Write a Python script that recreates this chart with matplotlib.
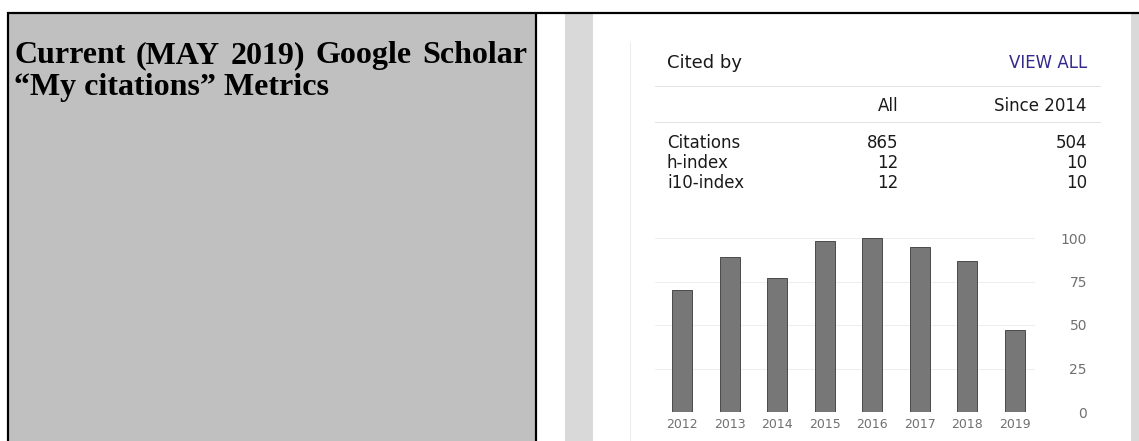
import matplotlib
matplotlib.use("Agg")
import matplotlib.pyplot as plt
from matplotlib.patches import Rectangle

W, H = 1139, 441

# ---- data ----
title_lines = ["Current (MAY 2019) Google Scholar", "\u201cMy citations\u201d Metrics"]
col_headers = ["All", "Since 2014"]
metric_names = ["Citations", "h-index", "i10-index"]
all_values = [865, 12, 12]
since_values = [504, 10, 10]
years = [2012, 2013, 2014, 2015, 2016, 2017, 2018, 2019]
cites = [70, 89, 77, 98, 100, 95, 87, 47]
y_ticks = [0, 25, 50, 75, 100]

SANS = ["DejaVu Sans"]
SERIF = ["Liberation Serif", "DejaVu Serif"]
PX = 0.72  # one pixel in points at dpi 100
INK = "#1a1a1a"

fig = plt.figure(figsize=(W / 100, H / 100), dpi=100)
bg = fig.add_axes([0, 0, 1, 1])
bg.set_xlim(0, W)
bg.set_ylim(H, 0)
bg.axis("off")

# table frame: grey left cell, white right cell with page strips
bg.add_patch(Rectangle((9, 14), 526, H - 14, fc="#c0c0c0", ec="none"))
bg.add_patch(Rectangle((565, 14), 28, H - 14, fc="#d9d9d9", ec="none"))
bg.add_patch(Rectangle((1131, 14), 8, H - 14, fc="#d9d9d9", ec="none"))
bg.plot([7, W], [13, 13], color="black", lw=2.2 * PX, solid_capstyle="butt")
bg.plot([8, 8], [12, H], color="black", lw=2.2 * PX, solid_capstyle="butt")
bg.plot([536, 536], [12, H], color="black", lw=2.2 * PX, solid_capstyle="butt")

# card edge and separators
bg.plot([630, 630], [42, H], color="#ebebeb", lw=PX)
for yy in (86, 122):
    bg.plot([655, 1100], [yy, yy], color="#e2e2e2", lw=PX)


def justify(words, x0, x1, y, **kw):
    r = fig.canvas.get_renderer()
    texts = [bg.text(0, y, w, **kw) for w in words]
    widths = [t.get_window_extent(r).width for t in texts]
    gap = (x1 - x0 - sum(widths)) / (len(words) - 1)
    x = x0
    for t, w in zip(texts, widths):
        t.set_x(x)
        x += w + gap


title_kw = dict(family=SERIF, weight="bold", fontsize=23, color="black",
                va="baseline", ha="left")
justify(title_lines[0].split(), 14, 527, 63, **title_kw)
bg.text(14, 95, title_lines[1], **title_kw)

# Scholar header + metrics table
bg.text(667, 63, "Cited by", family=SANS, fontsize=13, color=INK,
        va="center", ha="left")
bg.text(1087, 63, "VIEW ALL", family=SANS, fontsize=12, color="#33288c",
        va="center", ha="right")
col_x = [898, 1087]
for cx, hdr in zip(col_x, col_headers):
    bg.text(cx, 106, hdr, family=SANS, fontsize=12, color=INK,
            va="center", ha="right")
row_y = [143, 163, 183]
for ry, name, a, s in zip(row_y, metric_names, all_values, since_values):
    bg.text(667, ry, name, family=SANS, fontsize=12, color=INK,
            va="center", ha="left")
    bg.text(col_x[0], ry, str(a), family=SANS, fontsize=12, color=INK,
            va="center", ha="right")
    bg.text(col_x[1], ry, str(s), family=SANS, fontsize=12, color=INK,
            va="center", ha="right")

# citations-per-year bar chart
x0, x1, ytop, ybot = 655, 1035, 238, 412
ax = fig.add_axes([x0 / W, 1 - ybot / H, (x1 - x0) / W, (ybot - ytop) / H])
ax.patch.set_alpha(0)
pos = list(range(len(years)))
ax.bar(pos, cites, width=0.42, color="#777777", edgecolor="#4d4d4d",
       linewidth=PX, zorder=3)
ax.set_xlim(-0.57, 7.43)
ax.set_ylim(0, 100)
for s in ax.spines.values():
    s.set_visible(False)
ax.set_yticks(y_ticks)
ax.yaxis.tick_right()
ax.grid(axis="y", color="#eeeeee", lw=PX, zorder=0)
ax.tick_params(axis="y", length=0, pad=37.4, labelsize=10, labelcolor="#707070")
for lbl in ax.get_yticklabels():
    lbl.set_ha("right")
    lbl.set_family(SANS)
ax.set_xticks(pos, [str(y) for y in years])
ax.tick_params(axis="x", length=0, pad=4, labelsize=9, labelcolor="#707070")

fig.savefig("out.png", dpi=100)
